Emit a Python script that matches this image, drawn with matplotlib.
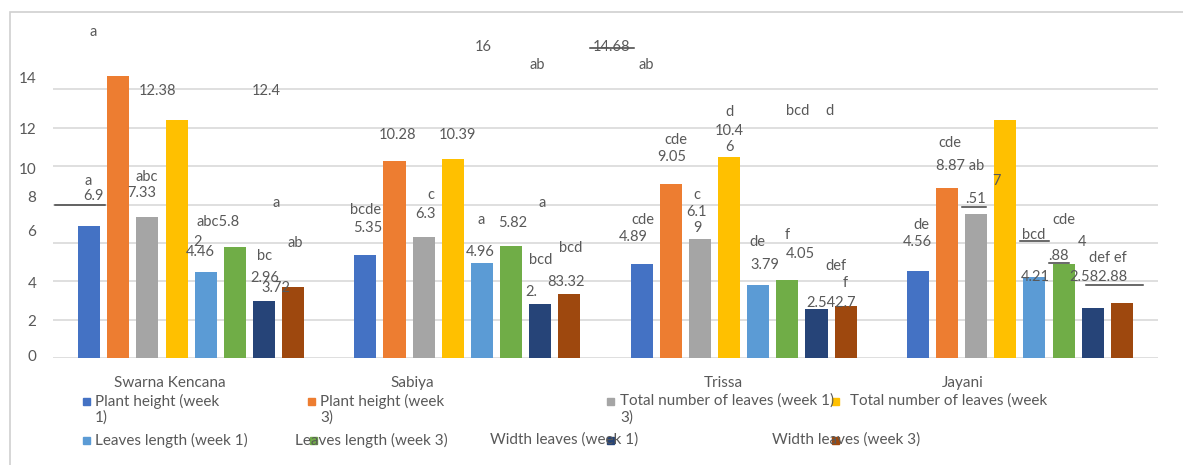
import matplotlib
matplotlib.use("Agg")
import matplotlib.pyplot as plt
import matplotlib.patches as patches
import numpy as np

plt.rcParams['font.family'] = ['Lato', 'DejaVu Sans']

W, H = 1183, 465
GREY = '#595959'

# data
varieties = ['Swarna Kencana', 'Sabiya', 'Trissa', 'Jayani']
series_names = ['Plant height (week 1)', 'Plant height (week 3)',
                'Total number of leaves (week 1)', 'Total number of leaves (week 3)',
                'Leaves length (week 1)', 'Leaves length (week 3)',
                'Width leaves (week 1)', 'Width leaves (week 3)']
plant_h_w1 = [6.9, 5.35, 4.89, 4.56]
plant_h_w3 = [14.68, 10.28, 9.05, 8.87]
leaves_n_w1 = [7.33, 6.3, 6.19, 7.51]
leaves_n_w3 = [12.38, 10.39, 10.46, 12.4]
leaves_l_w1 = [4.46, 4.96, 3.79, 4.21]
leaves_l_w3 = [5.8, 5.82, 4.05, 4.88]
width_w1 = [2.96, 2.83, 2.54, 2.58]
width_w3 = [3.72, 3.32, 2.7, 2.88]
colors = ['#4472C4', '#ED7D31', '#A5A5A5', '#FFC000',
          '#5B9BD5', '#70AD47', '#264478', '#9E480E']
series = [plant_h_w1, plant_h_w3, leaves_n_w1, leaves_n_w3,
          leaves_l_w1, leaves_l_w3, width_w1, width_w3]

ytick_text = ['0', '2', '4', '6', '8', '10', '12', '14']
# the axis labels in the original sit a little off their gridlines
ytick_at = [0.15, 1.98, 3.96, 6.62, 8.4, 9.9, 11.98, 14.6]

# scattered data labels of the original picture: (text, x px, y px)
label_layout = [
    ('a', 93, 32), ('12.38', 157, 91), ('12.4', 266, 91),
    ('a', 88, 181), ('6.9', 93, 196), ('abc', 147, 177), ('7.33', 142, 193),
    ('abc5.8', 218, 222), ('2', 198, 242), ('4.46', 200, 252),
    ('a', 276, 203), ('ab', 295, 243), ('bc', 265, 256),
    ('2.96', 265, 278), ('3.72', 276, 288),
    ('bcde', 366, 210), ('5.35', 368, 228),
    ('10.28', 397, 135), ('10.39', 457, 135),
    ('16', 483, 47), ('ab', 537, 65), ('14.68', 612, 47), ('ab', 646, 65),
    ('c', 431, 195), ('6.3', 425, 214), ('a', 481, 220), ('5.82', 513, 223),
    ('a', 542, 203), ('4.96', 480, 252), ('bcd', 541, 260), ('bcd', 571, 248),
    ('2.', 531, 292), ('83.32', 566, 282),
    ('cde', 643, 220), ('4.89', 633, 237),
    ('cde', 676, 140), ('9.05', 672, 157),
    ('c', 697, 195), ('6.1', 697, 212), ('9', 697, 228),
    ('d', 729, 112), ('10.4', 729, 131), ('6', 729, 147),
    ('bcd', 798, 111), ('d', 830, 111),
    ('de', 757, 242), ('3.79', 765, 265), ('f', 787, 235), ('4.05', 800, 254),
    ('def', 836, 266), ('f', 845, 283), ('2.542.7', 831, 303),
    ('cde', 950, 143), ('8.87 ab', 960, 166), ('.51', 975, 199), ('7', 996, 181),
    ('de', 921, 225), ('4.56', 917, 242),
    ('bcd', 1034, 235), ('cde', 1064, 220), ('4', 1082, 242),
    ('.88', 1058, 256), ('def ef', 1108, 258),
    ('4.21', 1035, 277), ('2.582.88', 1098, 277),
]
# stray strokes (x0, x1, y) px
strokes = [(55, 105, 205), (590, 634, 48), (962, 986, 207),
           (1020, 1049, 241), (1049, 1069, 263), (1086, 1143, 285)]

fig = plt.figure(figsize=(W / 100, H / 100), dpi=100)
ax = fig.add_axes([53 / W, 1 - 358 / H, (1158 - 53) / W, (358 - 51) / H])

x = np.arange(len(varieties))
pitch = 0.1055
bw = 0.08
for i, (vals, col) in enumerate(zip(series, colors)):
    ax.bar(x + (i - 3.5) * pitch, vals, bw, color=col, zorder=3)

ax.set_xlim(-0.5, 3.5)
ax.set_ylim(0, 16)
for g in range(0, 15, 2):
    ax.axhline(g, color='#d9d9d9', lw=1.2, zorder=1)
ax.set_yticks(ytick_at)
ax.set_yticklabels(ytick_text, color=GREY, fontsize=11)
ax.tick_params(axis='y', length=0, pad=12)
ax.set_xticks([])
for s in ax.spines.values():
    s.set_visible(False)


def ftext(s, px, py, **kw):
    fig.text(px / W, 1 - py / H, s, color=GREY, **kw)


for s, px, py in label_layout:
    ftext(s, px, py, fontsize=10.5, ha='center', va='center')

for x0, x1, py in strokes:
    fig.add_artist(plt.Line2D([x0 / W, x1 / W], [1 - py / H] * 2,
                              color='#404040', lw=1.1))

# category labels (shifted like the original)
cat_px = [170, 412, 723, 963]
for name, px in zip(varieties, cat_px):
    ftext(name, px, 383, fontsize=11, ha='center', va='center')

# hand-placed legend, as in the original
def marker(px, py, col):
    fig.add_artist(patches.Rectangle((px / W, 1 - (py + 3.5) / H), 7 / W, 7 / H,
                                     color=col, transform=fig.transFigure))

leg_rows = [
    (0, 83, 95, 401, 'Plant height (week'),
    (1, 308, 320, 401, 'Plant height (week'),
    (2, 607, 620, 401, 'Total number of leaves (week 1)'),
    (3, 832, 850, 401, 'Total number of leaves (week'),
    (4, 83, 95, 440, 'Leaves length (week 1)'),
    (5, 310, 295, 440, 'Leaves length (week 3)'),
    (6, 607, 490, 440, 'Width leaves (week 1)'),
    (7, 832, 772, 440, 'Width leaves (week 3)'),
]
for k, mx, tx, py, txt in leg_rows:
    ftext(txt, tx, py, fontsize=11, ha='left', va='center')
    marker(mx, py, colors[k])
ftext('1)', 95, 418, fontsize=11, ha='left', va='center')
ftext('3)', 320, 418, fontsize=11, ha='left', va='center')
ftext('3)', 620, 418, fontsize=11, ha='left', va='center')

# chart border
fig.add_artist(patches.Rectangle((10 / W, -0.01), 1.02, 1 - 12 / H + 0.01,
                                 fill=False, edgecolor='#d0d0d0', lw=1.2,
                                 transform=fig.transFigure))

fig.savefig('out.png', dpi=100)
